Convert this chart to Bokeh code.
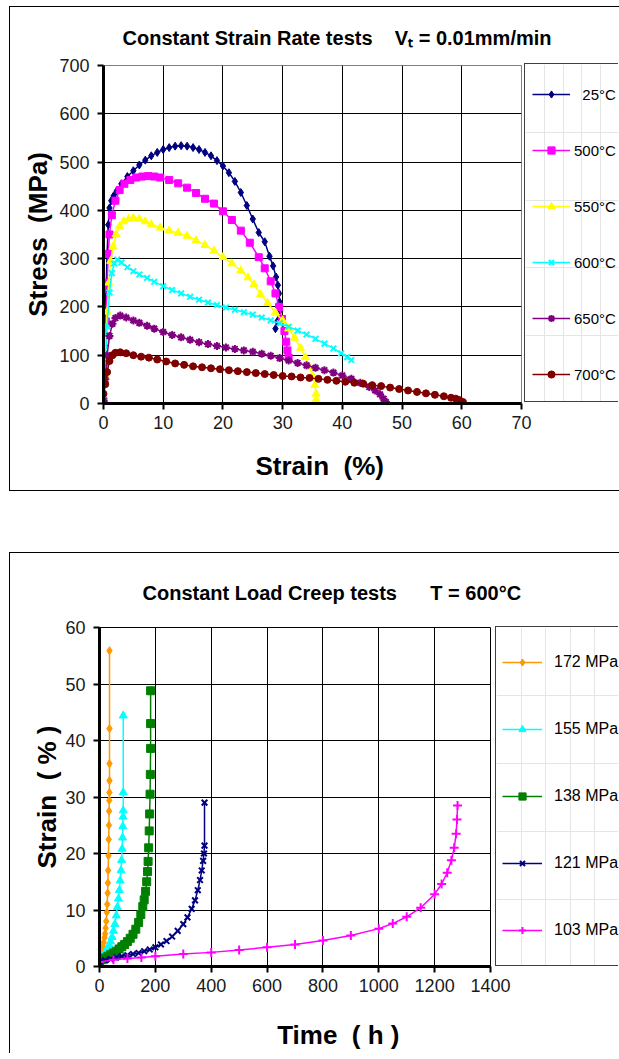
from bokeh.plotting import figure
from bokeh.models import Range1d, FixedTicker, Legend, LegendItem
from bokeh.embed import file_html
from bokeh.resources import INLINE

FONT = "Liberation Sans"
NB = "\u00a0"

# ---------------- Chart 1: Constant Strain Rate tests ----------------
strain_ticks = [0, 10, 20, 30, 40, 50, 60, 70]
stress_ticks = [0, 100, 200, 300, 400, 500, 600, 700]

strain_25 = [0, 0.2, 0.4, 0.6, 0.8, 1.0, 1.3, 1.7, 2.2, 3, 4, 5, 6, 7, 8, 9, 10, 11, 12, 13, 14, 15, 16, 17,
             18, 19, 20, 21, 22, 23, 24, 25, 26, 27, 27.8, 28.4, 28.9, 29.2, 29.4, 29.5, 29.4, 29.1, 28.8]
stress_25 = [20, 120, 220, 310, 370, 405, 420, 430, 440, 455, 470, 482, 494, 504, 513, 520, 526, 530, 533, 534,
             533, 530, 526, 520, 513, 503, 492, 478, 460, 437, 410, 382, 354, 335, 305, 285, 262, 245, 228, 210,
             190, 170, 155]

strain_500 = [0, 0.2, 0.4, 0.6, 0.8, 1.0, 1.4, 2, 2.7, 3.5, 4.5, 5.5, 6.5, 7.5, 8.5, 9.5, 11, 12.5, 14, 15.5, 17,
              18.5, 20, 21.5, 23, 24.5, 26, 27, 28, 28.8, 29.4, 29.9, 30.3, 30.6, 30.8, 31]
stress_500 = [5, 80, 170, 250, 310, 350, 390, 420, 442, 455, 463, 468, 470, 471, 470, 468, 463, 456, 447, 436, 424,
              414, 398, 380, 358, 333, 303, 280, 253, 228, 200, 175, 150, 128, 110, 95]

strain_550 = [0, 0.2, 0.4, 0.6, 0.9, 1.2, 1.6, 2.1, 2.7, 3.4, 4.2, 5, 6, 7, 8, 9.5, 11, 12.5, 14, 15.5, 17, 18.5,
              20, 21.5, 23, 24.2, 25.2, 26.3, 27.5, 28.8, 30, 31, 32, 33, 33.8, 34.5, 35, 35.4, 35.6, 35.6]
stress_550 = [5, 60, 130, 190, 250, 295, 325, 350, 367, 377, 382, 384, 382, 377, 371, 364, 358, 353, 347, 338, 328,
              316, 303, 290, 275, 261, 247, 226, 208, 188, 172, 155, 136, 115, 96, 76, 58, 38, 20, 8]

strain_600 = [0, 0.3, 0.6, 1.0, 1.4, 1.8, 2.3, 3, 4, 5, 6, 7.3, 8.5, 10, 11.5, 13, 14.5, 16, 17.5, 19, 20.5, 22,
              23.5, 25, 26.5, 28, 29.5, 31, 32.5, 34, 35.5, 37, 38.5, 39.8, 40.8, 41.5]
stress_600 = [5, 80, 160, 230, 270, 290, 298, 292, 282, 274, 267, 260, 252, 243, 235, 228, 221, 215, 209, 204, 199,
              194, 189, 184, 178, 172, 166, 159, 151, 143, 134, 124, 114, 104, 96, 90]

strain_650 = [0, 0.3, 0.6, 1.0, 1.5, 2.0, 2.8, 3.8, 5, 6, 7.3, 8.5, 10, 11.5, 13, 14.5, 16, 17.5, 19, 20.5, 22,
              23.5, 25, 26.5, 28, 29.5, 31, 32.5, 34, 35.5, 37, 38.5, 40, 41.5, 43, 44.5, 45.5, 46.3, 46.9, 47.3]
stress_650 = [5, 50, 100, 140, 165, 177, 182, 178, 172, 167, 161, 155, 148, 142, 137, 132, 127, 123, 119, 116, 113,
              110, 107, 103, 99, 94, 89, 84, 79, 74, 69, 64, 58, 51, 43, 34, 27, 19, 10, 3]

strain_700 = [0, 0.3, 0.6, 1.0, 1.5, 2.0, 2.8, 3.8, 5, 6.3, 7.6, 9, 10.5, 12, 13.5, 15, 16.5, 18, 19.5, 21, 22.5,
              24, 25.5, 27, 28.5, 30, 31.5, 33, 34.5, 36, 37.5, 39, 40.5, 42, 43.5, 45, 46.5, 48, 49.5, 51, 52.5,
              54, 55.5, 57, 58.2, 59, 59.6, 60.2]
stress_700 = [20, 40, 65, 88, 100, 105, 106, 104, 100, 97, 95, 91, 87, 83, 80, 77, 75, 73, 71, 69, 67, 65, 63, 61,
              59, 57, 56, 54, 53, 51, 49, 47, 45, 43, 41, 38, 36, 33, 30, 27, 24, 21, 18, 15, 12, 10, 7, 3]

temps = [NB + NB + "25°C", "500°C", "550°C", "600°C", "650°C", "700°C"]

# ---------------- Chart 2: Constant Load Creep tests ----------------
time_ticks = [0, 200, 400, 600, 800, 1000, 1200, 1400]
creep_ticks = [0, 10, 20, 30, 40, 50, 60]

time_172 = [0, 3, 6, 9, 12, 15, 18, 20, 22, 24, 26, 27.5, 29, 30, 31, 32, 33, 33.8, 34.5, 35, 35.5, 35.8, 35.8,
            35.8, 35.8]
strain_172 = [0.8, 1.5, 2.2, 2.9, 3.6, 4.3, 5.1, 5.8, 6.8, 8, 9.6, 11, 13, 14.8, 17, 19.6, 22.5, 25, 27.5, 29.4,
              30.8, 32.9, 35.9, 42.1, 55.9]

time_155 = [0, 5, 10, 15, 20, 25, 30, 35, 40, 45, 50, 55, 60, 64, 68, 71, 74, 77, 79, 81, 82.5, 83.5, 84.3, 85, 85,
            85]
strain_155 = [0.8, 1.3, 1.7, 2.1, 2.5, 2.9, 3.3, 3.8, 4.4, 5.2, 6.3, 7.5, 9, 10.5, 12, 13.5, 15.2, 17, 18.8, 20.8,
              22.8, 24.8, 26.5, 27.6, 30.8, 44.4]

time_138 = [0, 10, 20, 30, 40, 50, 60, 70, 80, 90, 100, 110, 120, 130, 140, 148, 155, 160, 165, 169, 172, 174, 176,
            178, 179.5, 181, 182, 183, 183, 183]
strain_138 = [0.8, 1.2, 1.5, 1.8, 2.1, 2.4, 2.7, 3.1, 3.5, 3.9, 4.4, 5, 5.7, 6.6, 7.8, 9.2, 10.6, 11.8, 13.3, 15,
              16.8, 18.6, 21, 24, 27, 30.5, 34, 38.6, 43, 48.8]

time_121 = [0, 20, 40, 60, 80, 100, 120, 140, 160, 180, 200, 220, 240, 260, 280, 300, 315, 330, 342, 352, 360, 366,
            371, 374, 376, 376]
strain_121 = [0.8, 1.1, 1.3, 1.6, 1.8, 2.0, 2.2, 2.4, 2.7, 3.0, 3.4, 3.9, 4.5, 5.3, 6.3, 7.5, 8.7, 10.2, 11.7, 13.5,
              15.3, 17, 18.7, 20, 21.4, 29]

time_103 = [0, 50, 100, 150, 200, 300, 400, 500, 600, 700, 800, 900, 1000, 1050, 1100, 1150, 1200, 1225, 1245,
            1260, 1270, 1277, 1280, 1282]
strain_103 = [0.8, 1.2, 1.4, 1.6, 1.8, 2.2, 2.5, 2.9, 3.4, 3.9, 4.6, 5.5, 6.7, 7.6, 8.8, 10.4, 12.8, 14.6, 16.6,
              18.8, 21, 23.5, 26, 28.5]

loads = ["172 MPa", "155 MPa", "138 MPa", "121 MPa", "103 MPa"]


def style_plot(p, xt, yt, outline_color):
    p.xaxis.ticker = FixedTicker(ticks=xt)
    p.yaxis.ticker = FixedTicker(ticks=yt)
    p.xgrid.ticker = FixedTicker(ticks=xt)
    p.ygrid.ticker = FixedTicker(ticks=yt)
    p.grid.grid_line_color = "black"
    p.grid.grid_line_width = 1
    for ax in (p.xaxis, p.yaxis):
        ax.axis_line_width = 3
        ax.axis_line_color = "black"
        ax.major_tick_out = 6
        ax.major_tick_in = 0
        ax.major_tick_line_width = 2
        ax.minor_tick_out = 0
        ax.minor_tick_in = 0
        ax.major_label_text_font = FONT
        ax.major_label_text_font_size = "18px"
        ax.major_label_text_color = "#1a1a1a"
        ax.axis_label_text_font = FONT
        ax.axis_label_text_font_size = "26px"
        ax.axis_label_text_font_style = "bold"
        ax.axis_label_text_color = "black"
    p.xaxis.major_label_standoff = 6
    p.yaxis.major_label_standoff = 8
    p.outline_line_color = outline_color
    p.outline_line_width = 1
    p.background_fill_color = "white"
    p.border_fill_color = "white"
    p.title.text_font = FONT
    p.title.text_font_size = "20px"
    p.title.text_font_style = "bold"
    p.title.text_color = "black"
    p.title.align = "left"


def legend_figure(series, labels, w, h, styles, loc, padding, spacing, glyph_w, standoff, font_size):
    f = figure(width=w, height=h, output_backend="svg", toolbar_location=None,
               x_axis_location=None, y_axis_location=None, min_border=0,
               x_range=Range1d(0, 1), y_range=Range1d(0, 1), styles=styles)
    f.title.visible = False
    f.outline_line_color = None
    f.background_fill_color = "white"
    f.border_fill_color = "white"
    items = []
    for (xs, ys, c, m, s, lw), lab in zip(series, labels):
        lr = f.line(xs, ys, line_color=c, line_width=1.5, visible=False)
        sr = f.scatter(xs, ys, marker=m, size=s, fill_color=c, line_color=c, line_width=lw, visible=False)
        items.append(LegendItem(label=lab, renderers=[lr, sr]))
    f.add_layout(Legend(items=items, location=loc, padding=padding, margin=0, spacing=spacing,
                        glyph_width=glyph_w, glyph_height=18, label_height=18, label_standoff=standoff,
                        label_text_font=FONT, label_text_font_size=font_size, label_text_color="black",
                        border_line_alpha=0, background_fill_alpha=0,
                        inactive_fill_alpha=0))
    return f


# ---------- figure 1 ----------
p1 = figure(frame_width=418, frame_height=338, x_range=Range1d(0, 70), y_range=Range1d(0, 700),
            output_backend="svg", toolbar_location=None,
            min_border_left=93, min_border_right=98, min_border_top=58, min_border_bottom=87,
            styles={"margin-left": "9px", "margin-top": "6px",
                    "border-left": "1px solid black", "border-top": "1px solid black",
                    "border-bottom": "1px solid black"})
style_plot(p1, strain_ticks, stress_ticks, "#808080")
p1.title.text = "Constant Strain Rate tests" + NB * 4 + "V\u209c = 0.01mm/min"
p1.title.offset = 19
p1.title.standoff = 33
p1.yaxis.axis_label = "Stress" + NB + " (MPa)"
p1.yaxis.axis_label_standoff = 3
p1.xaxis.axis_label = NB * 2 + "Strain" + NB + " (%)"
p1.xaxis.axis_label_standoff = 19

series1 = [
    (strain_25, stress_25, "#000080", "diamond", 8, 1),
    (strain_500, stress_500, "#FF00FF", "square", 7, 1),
    (strain_550, stress_550, "#FFFF00", "triangle", 8, 1),
    (strain_600, stress_600, "#00FFFF", "x", 8, 2),
    (strain_650, stress_650, "#800080", "asterisk", 8, 2),
    (strain_700, stress_700, "#800000", "circle", 7, 1),
]
for xs, ys, c, m, s, lw in series1:
    p1.line(xs, ys, line_color=c, line_width=1.5)
    p1.scatter(xs, ys, marker=m, size=s, fill_color=c, line_color=c, line_width=lw)

leg1 = legend_figure(series1, temps, 94, 339,
                     {"position": "absolute", "left": "524px", "top": "63px",
                      "border-left": "1px solid #404040", "border-top": "1px solid #404040",
                      "border-bottom": "1px solid #404040"},
                     (0, 13), 7, 38, 38, 4, "15px")

# ---------- figure 2 ----------
p2 = figure(frame_width=391, frame_height=339, x_range=Range1d(0, 1400), y_range=Range1d(0, 60),
            output_backend="svg", toolbar_location=None,
            min_border_left=89, min_border_right=129, min_border_top=74, min_border_bottom=87,
            styles={"margin-left": "9px", "margin-top": "61px",
                    "border-left": "1px solid black", "border-top": "1px solid black"})
style_plot(p2, time_ticks, creep_ticks, "black")
p2.title.text = "Constant Load Creep tests" + NB * 6 + "T = 600°C"
p2.title.offset = 43
p2.title.standoff = 47
p2.yaxis.axis_label = "Strain" + NB + " (" + NB + "%" + NB + ")"
p2.yaxis.axis_label_standoff = 0
p2.xaxis.axis_label = NB * 12 + "Time" + NB + " (" + NB + "h" + NB + ")"
p2.xaxis.axis_label_standoff = 25

series2 = [
    (time_172, strain_172, "#FF9900", "diamond", 8, 1),
    (time_155, strain_155, "#00FFFF", "triangle", 8, 1),
    (time_138, strain_138, "#008000", "square", 8, 1),
    (time_121, strain_121, "#000080", "x", 8, 2),
    (time_103, strain_103, "#FF00FF", "cross", 9, 2),
]
for xs, ys, c, m, s, lw in series2:
    p2.line(xs, ys, line_color=c, line_width=1.5)
    p2.scatter(xs, ys, marker=m, size=s, fill_color=c, line_color=c, line_width=lw)

leg2 = legend_figure(series2, loads, 123, 340,
                     {"position": "absolute", "left": "495px", "top": "626px",
                      "border-left": "1px solid #404040", "border-top": "1px solid #404040",
                      "border-bottom": "1px solid #404040"},
                     (0, 22), 6, 49, 40, 12, "16px")

open("out.html", "w").write(file_html([p1, p2, leg1, leg2], INLINE))
